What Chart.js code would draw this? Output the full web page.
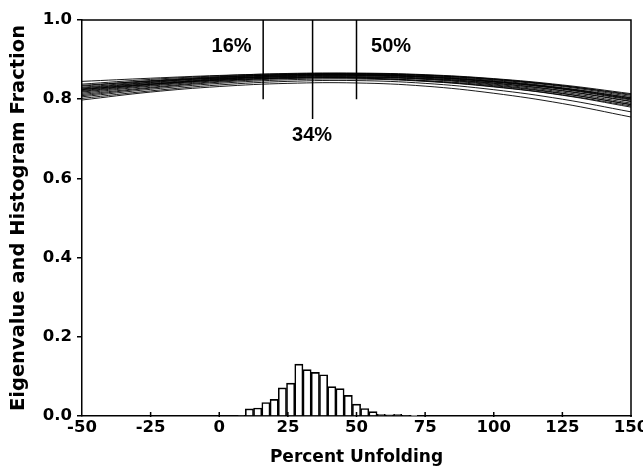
<!DOCTYPE html>
<html>
<head>
<meta charset="utf-8">
<script src="https://cdn.jsdelivr.net/npm/chart.js@4/dist/chart.umd.min.js"></script>
<style>
  html, body { margin: 0; padding: 0; background: #fff; }
  #wrap { width: 643px; height: 466px; }
</style>
</head>
<body>
<div id="wrap"><canvas id="chart" width="643" height="466"></canvas></div>
<script>
// ── Data ─────────────────────────────────────────────────────────

const curveX = [-50, -25, 0, 25, 50, 75, 100, 125, 150];

// eigenvalue curves, one row per trace (values at curveX)
const eigenvalueCurves = [
  [0.845, 0.853, 0.860, 0.864, 0.864, 0.860, 0.850, 0.834, 0.812],
  [0.838, 0.850, 0.859, 0.865, 0.866, 0.862, 0.852, 0.836, 0.814],
  [0.833, 0.847, 0.857, 0.863, 0.865, 0.861, 0.851, 0.834, 0.810],
  [0.830, 0.845, 0.856, 0.862, 0.864, 0.860, 0.849, 0.832, 0.807],
  [0.828, 0.843, 0.855, 0.862, 0.863, 0.858, 0.847, 0.829, 0.804],
  [0.826, 0.842, 0.854, 0.861, 0.862, 0.857, 0.845, 0.827, 0.801],
  [0.824, 0.840, 0.852, 0.860, 0.861, 0.856, 0.844, 0.826, 0.800],
  [0.822, 0.838, 0.851, 0.859, 0.861, 0.856, 0.845, 0.828, 0.803],
  [0.820, 0.837, 0.850, 0.858, 0.860, 0.855, 0.843, 0.825, 0.798],
  [0.818, 0.835, 0.849, 0.857, 0.859, 0.853, 0.841, 0.822, 0.795],
  [0.815, 0.833, 0.847, 0.855, 0.857, 0.852, 0.840, 0.821, 0.794],
  [0.812, 0.830, 0.845, 0.854, 0.856, 0.851, 0.838, 0.818, 0.790],
  [0.809, 0.828, 0.843, 0.852, 0.855, 0.850, 0.836, 0.815, 0.786],
  [0.806, 0.825, 0.840, 0.849, 0.851, 0.845, 0.831, 0.810, 0.780],
  [0.802, 0.821, 0.836, 0.845, 0.847, 0.840, 0.824, 0.800, 0.768],
  [0.798, 0.818, 0.832, 0.840, 0.841, 0.833, 0.815, 0.789, 0.755],
  [0.825, 0.838, 0.848, 0.853, 0.853, 0.847, 0.834, 0.814, 0.787],
  [0.835, 0.846, 0.853, 0.856, 0.854, 0.846, 0.832, 0.811, 0.783],
];

// histogram of percent unfolding (3% bins)
const binCenters = [8, 11, 14, 17, 20, 23, 26, 29, 32, 35, 38, 41, 44, 47, 50, 53, 56, 59, 62, 65, 68, 71];
const binFractions = [0.002, 0.018, 0.020, 0.034, 0.042, 0.071, 0.083, 0.131, 0.117, 0.110, 0.104,
  0.074, 0.069, 0.052, 0.030, 0.019, 0.011, 0.004, 0.003, 0.004, 0.002, 0.001];

// percentile markers
const markerX = [16, 34, 50];
const markerTop = [1.0, 1.0, 1.0];
const markerBottom = [0.80, 0.75, 0.80];
const markerLabels = ["16%", "34%", "50%"];
const markerLabelX = [4.5, 33.8, 62.6];
const markerLabelY = [0.933, 0.708, 0.933];

const xTickStep = 25;
const yTickStep = 0.2;

// ── Chart ────────────────────────────────────────────────────────

const TICK_FONT = { family: "'DejaVu Sans', sans-serif", weight: "bold", size: 16.5 };

const curveSets = eigenvalueCurves.map((row) => ({
  type: "line",
  data: row.map((y, i) => ({ x: curveX[i], y })),
  borderColor: "#000",
  borderWidth: 0.9,
  pointRadius: 0,
  tension: 0.4,
  fill: false,
}));

const markerSets = markerX.map((x, i) => ({
  type: "line",
  data: [{ x, y: markerTop[i] }, { x, y: markerBottom[i] }],
  borderColor: "#000",
  borderWidth: 1.5,
  pointRadius: 0,
  fill: false,
}));

const histSet = {
  type: "bar",
  data: binCenters.map((x, i) => ({ x, y: binFractions[i] })),
  backgroundColor: "#fff",
  borderColor: "#000",
  borderWidth: 1.6,
  barPercentage: 1.0,
  categoryPercentage: 1.0,
  borderSkipped: "bottom",
};

// frame, inward x ticks and the percent labels
const decorations = {
  id: "decorations",
  afterDraw(chart) {
    const { ctx, chartArea: a, scales } = chart;
    ctx.save();
    ctx.strokeStyle = "#000";
    ctx.lineWidth = 1.5;
    ctx.beginPath();
    ctx.moveTo(a.left, a.top);
    ctx.lineTo(a.right, a.top);
    ctx.lineTo(a.right, a.bottom);
    for (let v = -50 + xTickStep; v <= 150; v += xTickStep) {
      const px = scales.x.getPixelForValue(v);
      ctx.moveTo(px, a.bottom + 1);
      ctx.lineTo(px, a.bottom - 4);
    }
    ctx.stroke();

    ctx.fillStyle = "#000";
    ctx.font = "bold 20px 'Liberation Sans', Arial, sans-serif";
    ctx.textAlign = "center";
    ctx.textBaseline = "middle";
    markerLabels.forEach((t, i) => {
      ctx.fillText(t, scales.x.getPixelForValue(markerLabelX[i]), scales.y.getPixelForValue(markerLabelY[i]));
    });
    ctx.restore();
  },
};

new Chart(document.getElementById("chart"), {
  data: { datasets: [histSet, ...markerSets, ...curveSets] },
  options: {
    responsive: false,
    animation: false,
    devicePixelRatio: 1,
    layout: { padding: { left: 0, right: 12, top: 20, bottom: 0 } },
    plugins: { legend: { display: false }, tooltip: { enabled: false } },
    scales: {
      x: {
        type: "linear",
        min: -50,
        max: 150,
        offset: false,
        ticks: { stepSize: xTickStep, color: "#000", font: TICK_FONT, padding: 2, maxRotation: 0 },
        grid: { display: false, drawTicks: false, offset: false },
        border: { display: true, color: "#000", width: 1.5 },
        title: {
          display: true,
          text: "Percent Unfolding",
          color: "#000",
          font: { family: "'DejaVu Sans', sans-serif", weight: "bold", size: 17, lineHeight: 1 },
          padding: 0,
        },
        afterFit(scale) {
          scale.height = 50;
          scale.paddingLeft = 0;
          scale.paddingRight = 0;
        },
      },
      y: {
        min: 0,
        max: 1,
        ticks: {
          stepSize: yTickStep,
          color: "#000",
          font: TICK_FONT,
          padding: 5,
          callback: (v) => v.toFixed(1),
        },
        grid: { drawOnChartArea: false, drawTicks: true, tickLength: 5, color: "#000", lineWidth: 1.5 },
        border: { display: true, color: "#000", width: 1.5 },
        title: {
          display: true,
          text: "Eigenvalue and Histogram Fraction",
          color: "#000",
          font: { family: "'DejaVu Sans', sans-serif", weight: "bold", size: 19.5, lineHeight: 1 },
          padding: { top: 9, bottom: 0 },
        },
        afterFit(scale) {
          scale.width = 82;
        },
      },
    },
  },
  plugins: [decorations],
});
</script>
</body>
</html>
